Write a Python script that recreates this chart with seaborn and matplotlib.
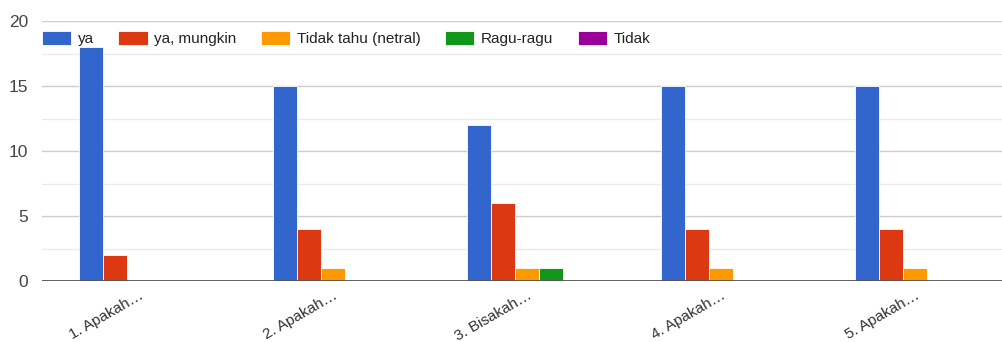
import pandas as pd
import matplotlib
matplotlib.use("Agg")
import matplotlib.pyplot as plt
import seaborn as sns
from matplotlib.ticker import MultipleLocator

# data
questions = ["1. Apakah…", "2. Apakah…", "3. Bisakah…", "4. Apakah…", "5. Apakah…"]
answers = ["ya", "ya, mungkin", "Tidak tahu (netral)", "Ragu-ragu", "Tidak"]
ya = [18, 15, 12, 15, 15]
ya_mungkin = [2, 4, 6, 4, 4]
tidak_tahu = [0, 1, 1, 1, 1]
ragu_ragu = [0, 0, 1, 0, 0]
tidak = [0, 0, 0, 0, 0]
colors = ["#3366CC", "#DC3912", "#FF9900", "#109618", "#990099"]

series = [ya, ya_mungkin, tidak_tahu, ragu_ragu, tidak]
rows = []
for ans, vals in zip(answers, series):
    for q, v in zip(questions, vals):
        rows.append({"question": q, "answer": ans, "count": v})
df = pd.DataFrame(rows)

sns.set_theme(style="white")
plt.rcParams["font.family"] = ["Liberation Sans", "DejaVu Sans"]

fig = plt.figure(figsize=(10.02, 3.42), dpi=100)
ax = fig.add_axes([42 / 1002, 61 / 342, 970 / 1002, 260 / 342])

sns.barplot(
    data=df, x="question", y="count", hue="answer",
    hue_order=answers, order=questions, palette=colors,
    width=0.62, edgecolor="white", linewidth=0.6, ax=ax,
    saturation=1, legend=True,
)

# grid style like google forms
ax.set_ylim(0, 20)
ax.yaxis.set_major_locator(MultipleLocator(5))
ax.yaxis.set_minor_locator(MultipleLocator(2.5))
ax.grid(axis="y", which="major", color="#cccccc", linewidth=1.0)
ax.grid(axis="y", which="minor", color="#ebebeb", linewidth=1.0)
ax.set_axisbelow(True)
ax.axhline(0, color="#555555", linewidth=1.3, zorder=5)
for s in ax.spines.values():
    s.set_visible(False)

ax.set_xlabel("")
ax.set_ylabel("")
ax.tick_params(axis="y", length=0, labelsize=12.5, labelcolor="#444444", pad=10)
ax.tick_params(axis="x", length=0, labelsize=11, labelcolor="#333333", pad=5)
for lab in ax.get_xticklabels():
    lab.set_rotation(30)
    lab.set_ha("right")
    lab.set_va("top")
    lab.set_rotation_mode("anchor")

handles, labels = ax.get_legend_handles_labels()
ax.legend(
    handles, labels, ncol=5, loc="center left",
    bbox_to_anchor=(0.0, 0.931), frameon=False, fontsize=11,
    handlelength=1.9, handleheight=1.0, handletextpad=0.45,
    columnspacing=1.6, borderaxespad=0, borderpad=0,
    labelcolor="#222222",
)

fig.savefig("out.png", dpi=100)
